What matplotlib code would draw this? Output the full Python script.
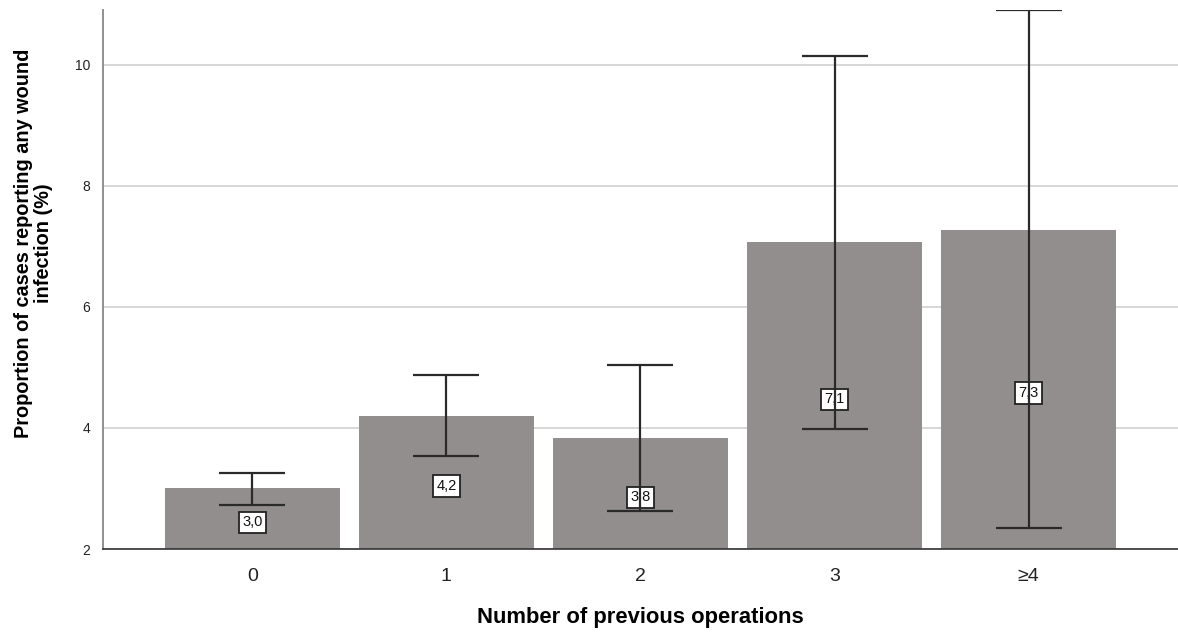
import matplotlib.pyplot as plt

plt.rcParams['font.family'] = ['Liberation Sans', 'DejaVu Sans']

# Data
categories = ["0", "1", "2", "3", "\u22654"]
values = [3.0, 4.2, 3.83, 7.07, 7.27]
ci_low = [2.73, 3.53, 2.62, 3.98, 2.35]
ci_high = [3.25, 4.87, 5.04, 10.15, 10.9]
value_labels = ["3,0", "4,2", "3,8", "7,1", "7,3"]

fig = plt.figure(figsize=(11.78, 6.32), dpi=100)
ax = fig.add_axes([0.0874, 0.1313, 0.9126, 0.8527])

ybase = 2.0
x = list(range(len(categories)))
heights = [v - ybase for v in values]
ax.bar(x, heights, bottom=ybase, width=0.9, color='#928e8d', zorder=2)

# value labels in the middle of each bar
for xi, v, lab in zip(x, values, value_labels):
    ax.text(xi, (ybase + v) / 2 - 0.06, lab, ha='center', va='center', fontsize=10.5,
            color='#111111', zorder=3,
            bbox=dict(boxstyle='square,pad=0.25', fc='white', ec='#222222', lw=1.3))

# error bars drawn over the labels
yerr = [[v - lo for v, lo in zip(values, ci_low)],
        [hi - v for v, hi in zip(values, ci_high)]]
ax.errorbar(x, values, yerr=yerr, fmt='none', ecolor='#2a2a2a', elinewidth=1.6,
            capsize=24, capthick=1.6, zorder=4)

ax.set_xlim(-0.77, 4.77)
ax.set_ylim(2, 10.9)
ax.set_yticks([2, 4, 6, 8, 10])
ax.set_yticklabels(["2", "4", "6", "8", "10"])
ax.set_xticks(x)
ax.set_xticklabels(categories)
ax.yaxis.grid(True, color='#d4d4d4', lw=1.3, zorder=0)
ax.set_axisbelow(True)

ax.tick_params(axis='y', length=0, labelsize=10, pad=9, labelcolor='#222222')
ax.tick_params(axis='x', length=0, labelsize=14, pad=14, labelcolor='#222222')

for side in ['top', 'right']:
    ax.spines[side].set_visible(False)
ax.spines['left'].set_color('#888888')
ax.spines['left'].set_linewidth(1.3)
ax.spines['bottom'].set_color('#333333')
ax.spines['bottom'].set_linewidth(1.2)

ax.set_xlabel("Number of previous operations", fontsize=15.8, fontweight='bold')
ax.xaxis.set_label_coords(0.5, -0.1076)
ax.set_ylabel("Proportion of cases reporting any wound\ninfection (%)", fontsize=14.3,
              fontweight='bold', linespacing=1.08)
ax.yaxis.set_label_coords(-0.0465, 0.568)

fig.savefig("out.png", dpi=100)
